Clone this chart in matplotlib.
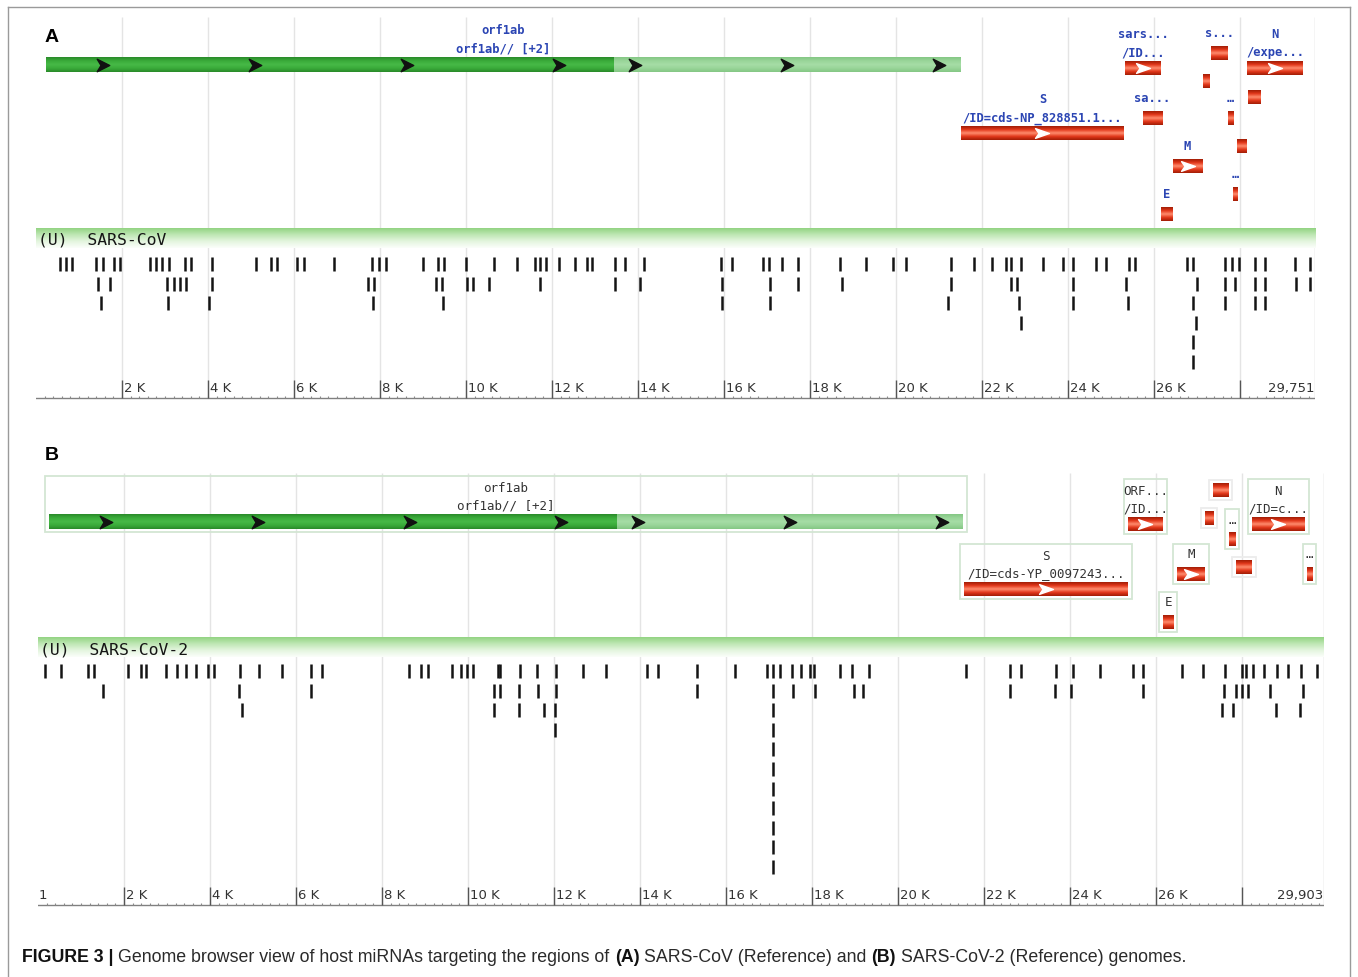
import numpy as np
import matplotlib
matplotlib.use("Agg")
import matplotlib.pyplot as plt
from matplotlib.patches import Rectangle
from matplotlib.lines import Line2D
from matplotlib.path import Path
from matplotlib.colors import LinearSegmentedColormap

# ------------------------------------------------------------------ data
GENOME_LEN_A = 29751
GENOME_LEN_B = 29903
TRACK_A = "(U)  SARS-CoV"
TRACK_B = "(U)  SARS-CoV-2"

RULER_TICKS = list(range(2000, 30000, 2000))
RULER_LABELS = ["2 K", "4 K", "6 K", "8 K", "10 K", "12 K", "14 K", "16 K",
                "18 K", "20 K", "22 K", "24 K", "26 K", ""]

# end of the orf1a part inside orf1ab (the darker green segment)
ORF1A_END_A = 13440
ORF1A_END_B = 13470

# SARS-CoV gene models
GENE_A_ID = ["orf1ab", "S", "ORF3a", "ORF3b", "E", "M", "ORF6", "ORF7a",
             "ORF7b", "ORF8a", "ORF8b", "N", "ORF9b"]
GENE_A_START = [233, 21510, 25330, 25740, 26160, 26440, 27140, 27330,
                27720, 27840, 27930, 28160, 28190]
GENE_A_END = [21490, 25300, 26160, 26190, 26420, 27120, 27300, 27720,
              27840, 27950, 28160, 29460, 28490]
GENE_A_LABELS = [["orf1ab", "orf1ab// [+2]"], ["S", "/ID=cds-NP_828851.1..."],
                 ["sars...", "/ID..."], ["sa..."], ["E"], ["M"], [], ["s..."],
                 ["\u2026"], ["\u2026"], [], ["N", "/expe..."], []]

# SARS-CoV-2 gene models
GENE_B_ID = ["orf1ab", "S", "ORF3a", "E", "M", "ORF6", "ORF7a", "ORF7b",
             "ORF8", "N", "ORF10"]
GENE_B_START = [250, 21545, 25350, 26160, 26490, 27140, 27330, 27700,
                27860, 28230, 29510]
GENE_B_END = [21505, 25350, 26160, 26400, 27140, 27330, 27680, 27840,
              28230, 29460, 29630]
GENE_B_LABELS = [["orf1ab", "orf1ab// [+2]"], ["S", "/ID=cds-YP_0097243..."],
                 ["ORF...", "/ID..."], ["E"], ["M"], [], [], ["\u2026"], [],
                 ["N", "/ID=c..."], ["\u2026"]]

# miRNA target sites, one list per stacking row
MIRNA_A_ROWS = [
    [560, 704, 848, 1395, 1568, 1808, 1952, 2643, 2787, 2940, 3084, 3459, 3603,
     4082, 5119, 5474, 5608, 6079, 6242, 6923, 7825, 7969, 8142, 9006, 9341,
     9485, 9994, 10656, 11194, 11597, 11712, 11866, 12173, 12538, 12825, 12940,
     13468, 13708, 14140, 15930, 16180, 16910, 17040, 17340, 17720, 18700,
     19300, 19930, 20230, 21290, 21820, 22240, 22550, 22680, 22900, 23410,
     23890, 24120, 24640, 24890, 25430, 25550, 26760, 26910, 27660, 27810,
     27980, 28350, 28570, 29270, 29630],
    [1453, 1712, 3056, 3200, 3344, 3488, 4082, 7710, 7854, 9294, 9438, 10013,
     10157, 10541, 11712, 13468, 14044, 15960, 17060, 17720, 18750, 21290,
     22680, 22810, 24120, 25350, 27010, 27660, 27880, 28350, 28570, 29300,
     29630],
    [1520, 3075, 4015, 7835, 9466, 15960, 17060, 21220, 22850, 24120, 25400,
     26910, 27660, 28350, 28570],
    [22900, 26980],
    [26910],
    [26910],
]

MIRNA_B_ROWS = [
    [159, 526, 1152, 1297, 2088, 2406, 2522, 2985, 3226, 3438, 3679, 3949,
     4093, 4701, 5135, 5665, 6360, 6601, 8626, 8915, 9060, 9638, 9831, 9976,
     10120, 10700, 10750, 11210, 11615, 12049, 12676, 13206, 14171, 14430,
     15320, 16200, 16950, 17090, 17260, 17530, 17740, 17960, 18050, 18650,
     18940, 19320, 21590, 22610, 22860, 23680, 24070, 24690, 25470, 25690,
     26600, 27090, 27600, 28000, 28100, 28250, 28510, 28810, 29080, 29370,
     29740],
    [1510, 4670, 6360, 10600, 10750, 11180, 11620, 12050, 15320, 17090, 17550,
     18060, 18970, 19190, 22610, 23640, 24030, 25700, 27570, 27850, 28000,
     28150, 28660, 29420],
    [4750, 10600, 11180, 11760, 12030, 17090, 27540, 27800, 28780, 29340],
    [12030, 17090],
    [17090], [17090], [17090], [17090], [17090], [17090], [17090],
]

CAPTION_PARTS = [("FIGURE 3 |", True),
                 ("Genome browser view of host miRNAs targeting the regions of", False),
                 ("(A)", True), ("SARS-CoV (Reference) and", False),
                 ("(B)", True), ("SARS-CoV-2 (Reference) genomes.", False)]

# ------------------------------------------------------------------ layout / style
W, H, DPI = 1358, 978, 100
PX_PER_BP = 43.0 / 1000.0

# vertical layout of feature lanes (pixels from the top of each panel)
TOP_A = [40, 109, 44, 94, 190, 142, 57, 29, 94, 170, 122, 44, 73]
TOP_B = [41, 109, 44, 142, 94, 38, 10, 59, 87, 44, 94]

LAYOUT_A = dict(left=36, top=18, bottom=406, band=(211, 231), header=222,
                row0=247, step=19.5, base=381)
LAYOUT_B = dict(left=38, top=474, bottom=914, band=(164, 184), header=176,
                row0=198, step=19.6, base=432)

RED = ["#a11d06", "#e2371a", "#ff8d6e", "#e2371a", "#a11d06"]
GREEN_DARK = ["#2a8a2a", "#3aab3a", "#47b947", "#3aab3a", "#2a8a2a"]
GREEN_LIGHT = ["#84c784", "#99d599", "#a6dda6", "#99d599", "#84c784"]
BAND = ["#93d383", "#bfe7b4", "#e4f5df", "#fbfefa"]
GRID = "#e4e4e4"

LABEL_A = dict(family="DejaVu Sans Mono", fontweight="bold", fontsize=8.7,
               color="#2b45b3")
LABEL_B = dict(family="DejaVu Sans Mono", fontsize=9, color="#333333")

CHEVRON_DARK = Path([(-1, 1), (1, 0), (-1, -1), (-0.4, 0), (-1, 1)],
                    [Path.MOVETO, Path.LINETO, Path.LINETO, Path.LINETO,
                     Path.CLOSEPOLY])
CHEVRON_LIGHT = Path([(-1, 0.7), (1, 0), (-1, -0.7), (-0.5, 0), (-1, 0.7)],
                     [Path.MOVETO, Path.LINETO, Path.LINETO, Path.LINETO,
                      Path.CLOSEPOLY])
ARROW_STEP = 3530
ARROW_PHASE = (1330, 490)

fig = plt.figure(figsize=(W / DPI, H / DPI), dpi=DPI)
fig.patch.set_facecolor("white")


def px(n):
    """pixel distance expressed in base pairs"""
    return n / PX_PER_BP


def add_panel(lay, length):
    width_px = length * PX_PER_BP
    ax = fig.add_axes([lay["left"] / W, 1 - lay["bottom"] / H,
                       width_px / W, (lay["bottom"] - lay["top"]) / H])
    ax.axis("off")
    return ax


def vgrad(ax, x0, x1, ytop, ybot, colors, z):
    cmap = LinearSegmentedColormap.from_list("grad", colors)
    ax.imshow(np.linspace(0, 1, 64)[:, None], cmap=cmap, aspect="auto",
              extent=(x0, x1, ybot, ytop), origin="upper",
              interpolation="bilinear", zorder=z)


def draw_panel(ax, lay, length, orf1a_end, starts, ends, labels, tops,
               lstyle, boxes, rows, track, end_label, start_label=None):
    base = lay["base"]
    # grid lines and right border
    ax.vlines(RULER_TICKS, 0, base, color=GRID, lw=1, zorder=0)
    ax.vlines([length], 0, base, color="#cfcfcf", lw=1, zorder=0)

    bar_h = 14
    for i, (s, e, lab, top) in enumerate(zip(starts, ends, labels, tops)):
        cx = (s + e) / 2
        if i == 0:
            h = 15
            vgrad(ax, s, orf1a_end, top, top + h, GREEN_DARK, 3)
            vgrad(ax, orf1a_end, e, top, top + h, GREEN_LIGHT, 3)
            arrows = []
            for (a0, a1), ph in zip(((s, orf1a_end), (orf1a_end, e)), ARROW_PHASE):
                arrows += list(np.arange(a0 + ph, a1 - px(8), ARROW_STEP))
            ax.plot(arrows, [top + h / 2] * len(arrows), ls="none",
                    marker=CHEVRON_DARK, ms=9, color="#111111", zorder=4)
        else:
            h = bar_h
            vgrad(ax, s, e, top, top + h, RED, 3)
            if (e - s) * PX_PER_BP > 25:
                ax.plot([cx], [top + h / 2], ls="none", marker=CHEVRON_LIGHT,
                        ms=10, color="white", zorder=4)
        if len(lab) == 2:
            ax.text(cx, top - 27, lab[0], ha="center", va="center", **lstyle)
            ax.text(cx, top - 9, lab[1], ha="center", va="center", **lstyle)
            y0 = top - 38
        elif len(lab) == 1:
            ax.text(cx, top - 13, lab[0], ha="center", va="center", **lstyle)
            y0 = top - 23
        else:
            y0 = top - 3
        if boxes:
            ec = "#d3e6d3" if lab else "#ececec"
            ax.add_patch(Rectangle((s - px(4), y0), (e - s) + px(8),
                                   top + h + 3 - y0, fill=False, ec=ec,
                                   lw=1.3, zorder=2))

    # track header band
    b0, b1 = lay["band"]
    vgrad(ax, 0, length, b0, b1, BAND, 1)
    ax.text(px(2), lay["header"], track, ha="left", va="center",
            family="DejaVu Sans Mono", fontsize=11.8, color="#151515", zorder=5)

    # miRNA hits
    for r, pos in enumerate(rows):
        yc = lay["row0"] + r * lay["step"]
        ax.vlines(pos, yc - 7, yc + 7, color="#141414", lw=1.8, zorder=5)

    # ruler
    ax.plot([0, length], [base, base], color="#808080", lw=1, zorder=3)
    ax.vlines(np.arange(200, length, 200), base - 2.5, base, color="#8a8a8a",
              lw=0.8, zorder=3)
    ax.vlines(RULER_TICKS, base - 18, base, color="#555555", lw=1, zorder=3)
    for x, lab in zip(RULER_TICKS, RULER_LABELS):
        ax.text(x + px(2), base - 10, lab, ha="left", va="center",
                family="DejaVu Sans", fontsize=9.5, color="#333333")
    ax.text(length - px(1), base - 10, end_label, ha="right", va="center",
            family="DejaVu Sans", fontsize=9.5, color="#333333")
    if start_label:
        ax.text(px(1), base - 10, start_label, ha="left", va="center",
                family="DejaVu Sans", fontsize=9.5, color="#333333")

    ax.set_xlim(0, length)
    ax.set_ylim(lay["bottom"] - lay["top"], 0)


axA = add_panel(LAYOUT_A, GENOME_LEN_A)
draw_panel(axA, LAYOUT_A, GENOME_LEN_A, ORF1A_END_A, GENE_A_START, GENE_A_END,
           GENE_A_LABELS, TOP_A, LABEL_A, False, MIRNA_A_ROWS, TRACK_A, "29,751")

axB = add_panel(LAYOUT_B, GENOME_LEN_B)
draw_panel(axB, LAYOUT_B, GENOME_LEN_B, ORF1A_END_B, GENE_B_START, GENE_B_END,
           GENE_B_LABELS, TOP_B, LABEL_B, True, MIRNA_B_ROWS, TRACK_B, "29,903",
           start_label="1")

# panel letters
for letter, (lx, ly) in (("A", (52, 38)), ("B", (52, 455))):
    fig.text(lx / W, 1 - ly / H, letter, family="Liberation Sans",
             fontweight="bold", fontsize=14, ha="center", va="center")

# outer frame
for xs, ys in (([8, 8], [8, H]), ([8, 1350], [8, 8]), ([1350, 1350], [8, H])):
    fig.add_artist(Line2D([x / W for x in xs], [1 - y / H for y in ys],
                          color="#9a9a9a", lw=1))

# caption, set piece by piece so the bold parts can differ in weight
fig.canvas.draw()
renderer = fig.canvas.get_renderer()
cap_size = 12.8
space = 0.278 * cap_size * DPI / 72.0
x = 22.0
for txt, bold in CAPTION_PARTS:
    t = fig.text(x / W, 1 - 958 / H, txt, family="Liberation Sans",
                 fontsize=cap_size, fontweight="bold" if bold else "normal",
                 color="#111111" if bold else "#2a2a2a", ha="left", va="center")
    x += t.get_window_extent(renderer=renderer).width + space

fig.savefig("out.png", dpi=DPI, facecolor="white")
